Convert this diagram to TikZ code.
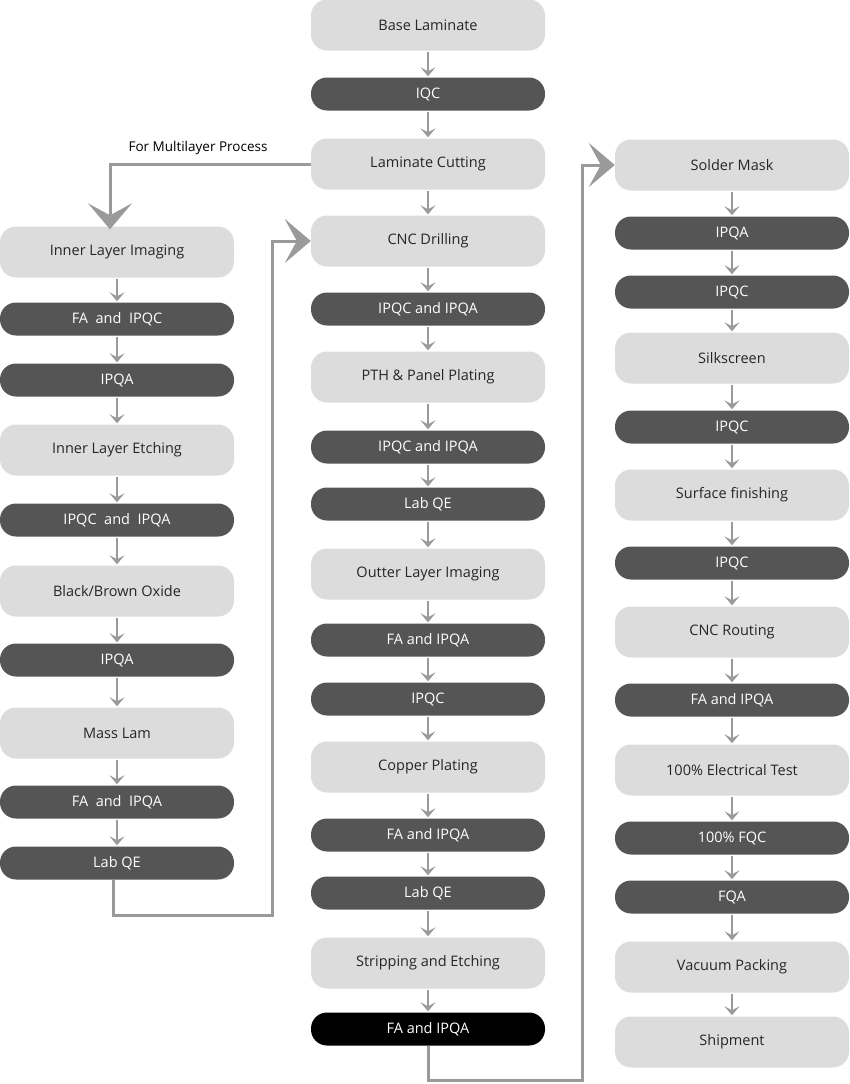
\documentclass[tikz,border=0pt]{standalone}
\usepackage{fontspec}
\setmainfont{Open Sans}
\usetikzlibrary{arrows.meta}
\definecolor{lt}{HTML}{DCDCDC}
\definecolor{dk}{HTML}{555555}
\definecolor{ar}{HTML}{9A9A9A}
\begin{document}
\begin{tikzpicture}[x=1pt,y=-1pt,
 base/.style={rounded corners=16pt,minimum width=234pt,font=\fontsize{14.5}{16}\selectfont,inner sep=0pt},
 lb/.style={base,fill=lt,minimum height=51pt,text=black!85},
 db/.style={base,fill=dk,minimum height=33pt,text=white},
 bb/.style={base,fill=black,minimum height=33pt,text=white},
 sa/.style={draw=ar,line width=2.5pt,-{Stealth[length=9pt,width=15pt,inset=4pt]}},
 ba/.style={draw=ar,line width=3pt,-{Stealth[length=26pt,width=44pt,inset=12pt]}}]
\useasboundingbox (0,0) rectangle (850,1084);
% left
\node[lb] (l1) at (117,252) {Inner Layer Imaging};
\node[db] (l2) at (117,319) {FA\ \ and\ \ IPQC};
\node[db] (l3) at (117,380) {IPQA};
\node[lb] (l4) at (117,450) {Inner Layer Etching};
\node[db] (l5) at (117,520) {IPQC\ \ and\ \ IPQA};
\node[lb] (l6) at (117,591) {Black/Brown Oxide};
\node[db] (l7) at (117,660) {IPQA};
\node[lb] (l8) at (117,733) {Mass Lam};
\node[db] (l9) at (117,802) {FA\ \ and\ \ IPQA};
\node[db] (l10) at (117,863) {Lab QE};
% middle
\node[lb] (m1) at (428,25) {Base Laminate};
\node[db] (m2) at (428,94) {IQC};
\node[lb] (m3) at (428,164) {Laminate Cutting};
\node[lb] (m4) at (428,241) {CNC Drilling};
\node[db] (m5) at (428,309) {IPQC and IPQA};
\node[lb] (m6) at (428,377) {PTH \& Panel Plating};
\node[db] (m7) at (428,447) {IPQC and IPQA};
\node[db] (m8) at (428,504) {Lab QE};
\node[lb] (m9) at (428,574) {Outter Layer Imaging};
\node[db] (m10) at (428,640) {FA and IPQA};
\node[db] (m11) at (428,699) {IPQC};
\node[lb] (m12) at (428,767) {Copper Plating};
\node[db] (m13) at (428,835) {FA and IPQA};
\node[db] (m14) at (428,893) {Lab QE};
\node[lb] (m15) at (428,963) {Stripping and Etching};
\node[bb] (m16) at (428,1029) {FA and IPQA};
% right
\node[lb] (r1) at (732,165) {Solder Mask};
\node[db] (r2) at (732,233) {IPQA};
\node[db] (r3) at (732,292) {IPQC};
\node[lb] (r4) at (732,358) {Silkscreen};
\node[db] (r5) at (732,427) {IPQC};
\node[lb] (r6) at (732,495) {Surface finishing};
\node[db] (r7) at (732,563) {IPQC};
\node[lb] (r8) at (732,632) {CNC Routing};
\node[db] (r9) at (732,700) {FA and IPQA};
\node[lb] (r10) at (732,770) {100\% Electrical Test};
\node[db] (r11) at (732,838) {100\% FQC};
\node[db] (r12) at (732,897) {FQA};
\node[lb] (r13) at (732,967) {Vacuum Packing};
\node[lb] (r14) at (732,1042) {Shipment};
\foreach \p in {l,m,r}{}
\foreach \a/\b in {l1/l2,l2/l3,l3/l4,l4/l5,l5/l6,l6/l7,l7/l8,l8/l9,l9/l10,
 m1/m2,m2/m3,m3/m4,m4/m5,m5/m6,m6/m7,m7/m8,m8/m9,m9/m10,m10/m11,m11/m12,m12/m13,m13/m14,m14/m15,m15/m16,
 r1/r2,r2/r3,r3/r4,r4/r5,r5/r6,r6/r7,r7/r8,r8/r9,r9/r10,r10/r11,r11/r12,r12/r13,r13/r14}
 \draw[sa] ([yshift=-1pt]\a.south) -- ([yshift=1pt]\b.north);
\node[font=\fontsize{13.5}{15}\selectfont,anchor=south] (lab) at (198,158) {For Multilayer Process};
\draw[ba] (m3.west) -| ([yshift=-3pt]l1.north -| 110,0);
\draw[ba] ([xshift=-4pt]l10.south) |- (272,915) |- (m4.west);
\draw[ba] (m16.south) |- (582,1080) |- (r1.west);
\end{tikzpicture}
\end{document}
